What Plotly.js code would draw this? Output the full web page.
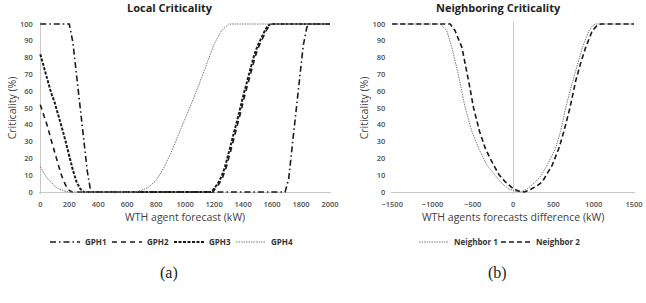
<!DOCTYPE html>
<html>
<head>
<meta charset="utf-8">
<script src="https://cdn.plot.ly/plotly-3.0.1.min.js"></script>
<style>html,body{margin:0;padding:0;background:#fff;}#chart{width:646px;height:303px;}</style>
</head>
<body>
<div id="chart"></div>
<script>
// ---- Local Criticality (a) ----
const gph1X = [0, 200, 225, 250, 275, 300, 325, 345, 360, 1690, 1715, 1740, 1765, 1790, 1815, 1840, 1855, 2000];
const gph1Y = [100, 100, 89, 70, 50, 30, 12, 2, 0, 0, 8, 28, 47, 68, 87, 98, 100, 100];

const gph2X = [0, 25, 50, 75, 100, 125, 150, 175, 200, 220, 1190, 1210, 1235, 1260, 1285, 1310, 1335, 1360, 1385, 1410, 1435, 1460, 1485, 1510, 1535, 1560, 1580, 1600, 2000];
const gph2Y = [52, 46, 39, 31, 23, 16, 9, 4, 1, 0, 0, 2, 5, 9, 15, 23, 31, 40, 48, 57, 65, 73, 81, 87, 92, 96, 99, 100, 100];

const gph3X = [0, 25, 50, 75, 100, 125, 150, 175, 200, 225, 250, 275, 300, 1180, 1200, 1225, 1250, 1275, 1300, 1325, 1350, 1375, 1400, 1425, 1450, 1475, 1500, 1525, 1550, 1570, 1590, 2000];
const gph3Y = [82, 74, 66, 59, 53, 46, 38, 30, 21, 13, 6, 2, 0, 0, 2, 5, 9, 15, 23, 31, 40, 48, 57, 65, 73, 81, 87, 92, 96, 99, 100, 100];

const gph4X = [0, 25, 50, 75, 100, 125, 150, 175, 200, 650, 700, 750, 800, 850, 900, 950, 1000, 1050, 1100, 1150, 1200, 1250, 1300, 2000];
const gph4Y = [15, 11, 8, 5.5, 3.5, 2, 1, 0.3, 0, 0, 1, 3, 7, 14, 23, 33, 43, 54, 65, 77, 88, 96, 100, 100];

// ---- Neighboring Criticality (b) ----
const nb1X = [-1500, -905, -860, -822, -760, -680, -594, -511, -428, -325, -240, -158, -60, 20, 91, 180, 277, 350, 423, 527, 589, 651, 734, 800, 859, 941, 985, 1024, 1500];
const nb1Y = [100, 100, 98, 96, 86, 70, 50, 36, 26, 16, 11, 6, 2, 0.5, 0, 2, 6, 10, 16, 26, 36, 50, 65, 76, 86, 96, 99, 100, 100];

const nb2X = [-1500, -780, -720, -635, -552, -490, -416, -345, -242, -170, -96, 0, 70, 140, 215, 290, 361, 485, 568, 630, 705, 776, 840, 900, 983, 1040, 1087, 1500];
const nb2Y = [100, 100, 96, 86, 66, 50, 36, 26, 16, 10, 6, 2, 0.5, 0, 1.5, 3.5, 6, 16, 26, 36, 50, 66, 77, 86, 96, 99, 100, 100];

const leftTicks = [0, 200, 400, 600, 800, 1000, 1200, 1400, 1600, 1800, 2000];
const rightTicks = [-1500, -1000, -500, 0, 500, 1000, 1500];
const yTicks = [0, 10, 20, 30, 40, 50, 60, 70, 80, 90, 100];

const tickFont = {family: 'Open Sans, sans-serif', size: 7.5, color: '#505050', weight: 600};
const titleFont = {family: 'Open Sans, sans-serif', size: 10.5, color: '#404040'};
const legFont = {family: 'Open Sans, sans-serif', size: 8, color: '#333333', weight: 700};

const traces = [
  {x: gph1X, y: gph1Y, name: 'GPH1', mode: 'lines', xaxis: 'x', yaxis: 'y', legend: 'legend',
   line: {color: '#1a1a1a', width: 1.6, dash: '6px,3px,1.5px,3px'}},
  {x: gph2X, y: gph2Y, name: 'GPH2', mode: 'lines', xaxis: 'x', yaxis: 'y', legend: 'legend2',
   line: {color: '#1a1a1a', width: 1.6, dash: '5px,4px'}},
  {x: gph3X, y: gph3Y, name: 'GPH3', mode: 'lines', xaxis: 'x', yaxis: 'y', legend: 'legend3',
   line: {color: '#1a1a1a', width: 2, dash: '3px,1.5px'}},
  {x: gph4X, y: gph4Y, name: 'GPH4', mode: 'lines', xaxis: 'x', yaxis: 'y', legend: 'legend4',
   line: {color: '#7a7a7a', width: 1, dash: '1.5px,1px'}},
  {x: nb1X, y: nb1Y, name: 'Neighbor 1', mode: 'lines', xaxis: 'x2', yaxis: 'y2', legend: 'legend5',
   line: {color: '#7a7a7a', width: 1, dash: '1.5px,1px'}},
  {x: nb2X, y: nb2Y, name: 'Neighbor 2', mode: 'lines', xaxis: 'x2', yaxis: 'y2', legend: 'legend6',
   line: {color: '#1a1a1a', width: 1.6, dash: '5px,3px'}}
];

const H = 303, T = 22, B = 109;
const plotH = H - T - B;
const yr = [-((H - B) - 192) / 1.68, (192 - T) / 1.68];

function py(px) { return (H - B - px) / plotH; }

function leg(px) {
  return {orientation: 'h', x: px / 646, xanchor: 'left', y: py(242), yanchor: 'middle',
    font: legFont, itemwidth: 30, bgcolor: 'rgba(0,0,0,0)', borderwidth: 0};
}

const layout = {
  width: 646, height: 303,
  margin: {l: 0, r: 0, t: T, b: B},
  paper_bgcolor: '#ffffff', plot_bgcolor: '#ffffff',
  showlegend: true,
  xaxis: {domain: [38.85/646, 331.45/646], range: [-10, 2010], anchor: 'y',
    tickvals: leftTicks, ticks: '', showgrid: false, zeroline: true, zerolinecolor: '#c8c8c8', zerolinewidth: 1,
    showline: false, tickfont: tickFont, ticklabelstandoff: 4,
    title: {text: 'WTH agent forecast (kW)', font: titleFont, standoff: 6}},
  yaxis: {domain: [0, 1], range: yr, anchor: 'x',
    tickvals: yTicks, ticks: '', showgrid: false, zeroline: true, zerolinecolor: '#c8c8c8', zerolinewidth: 1,
    showline: false, tickfont: tickFont, ticklabelstandoff: 5,
    title: {text: 'Criticality (%)', font: titleFont, standoff: 1}},
  xaxis2: {domain: [391.4/646, 634.8/646], range: [-1510, 1510], anchor: 'y2',
    tickvals: rightTicks, ticks: '', showgrid: false, zeroline: true, zerolinecolor: '#c8c8c8', zerolinewidth: 1,
    showline: false, tickfont: tickFont, ticklabelstandoff: 4,
    title: {text: 'WTH agents forecasts difference (kW)', font: titleFont, standoff: 6}},
  yaxis2: {domain: [0, 1], range: yr, anchor: 'x2',
    tickvals: yTicks, ticks: '', showgrid: false, zeroline: true, zerolinecolor: '#c8c8c8', zerolinewidth: 1,
    showline: false, tickfont: tickFont, ticklabelstandoff: 5,
    title: {text: 'Criticality (%)', font: titleFont, standoff: 1}},
  legend: leg(45),
  legend2: leg(107),
  legend3: leg(169),
  legend4: leg(231),
  legend5: leg(414),
  legend6: leg(496),
  annotations: [
    {text: '<b>Local Criticality</b>', xref: 'paper', yref: 'paper', x: 170/646, y: py(7), xanchor: 'center', yanchor: 'middle',
     showarrow: false, font: {family: 'Open Sans, sans-serif', size: 11, color: '#222222'}},
    {text: '<b>Neighboring Criticality</b>', xref: 'paper', yref: 'paper', x: 498/646, y: py(7), xanchor: 'center', yanchor: 'middle',
     showarrow: false, font: {family: 'Open Sans, sans-serif', size: 11, color: '#222222'}},
    {text: '(a)', xref: 'paper', yref: 'paper', x: 169/646, y: py(273), xanchor: 'center', yanchor: 'middle',
     showarrow: false, font: {family: 'Liberation Serif, serif', size: 16, color: '#222222'}},
    {text: '(b)', xref: 'paper', yref: 'paper', x: 497/646, y: py(273), xanchor: 'center', yanchor: 'middle',
     showarrow: false, font: {family: 'Liberation Serif, serif', size: 16, color: '#222222'}}
  ]
};

Plotly.newPlot('chart', traces, layout, {staticPlot: true, displayModeBar: false});
</script>
</body>
</html>
